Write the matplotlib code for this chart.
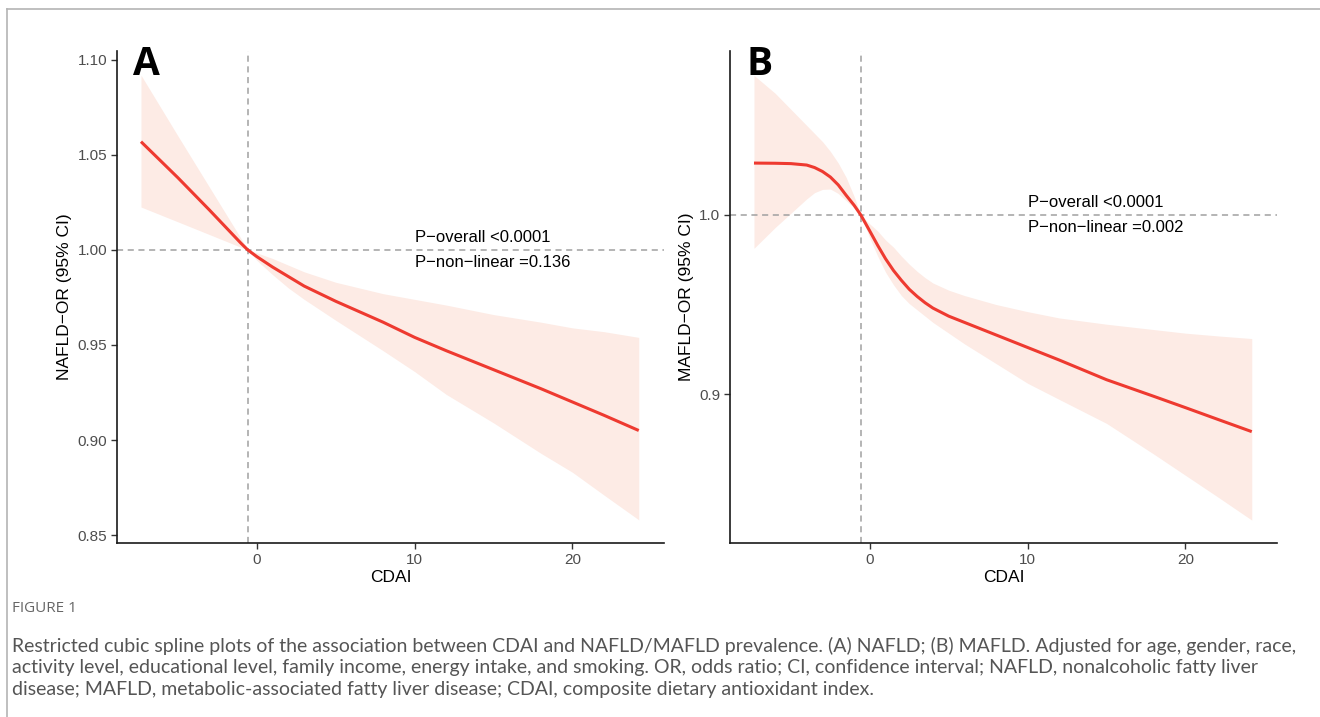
import matplotlib
matplotlib.use("Agg")
import matplotlib.pyplot as plt
from matplotlib.lines import Line2D

# panel A: NAFLD
xa = [-7.34, -5, -3, -1, -0.57, 0, 1, 2, 3, 5, 8, 10, 12, 15, 18, 20, 22, 24.2]
ya = [1.057, 1.038, 1.021, 1.0035, 1.0, 0.9965, 0.991, 0.986, 0.981, 0.973, 0.962, 0.954, 0.947, 0.937, 0.927, 0.920, 0.913, 0.905]
ya_hi = [1.092, 1.060, 1.033, 1.006, 1.0, 0.9985, 0.9955, 0.992, 0.9885, 0.983, 0.977, 0.974, 0.971, 0.966, 0.962, 0.959, 0.957, 0.954]
ya_lo = [1.0226, 1.0148, 1.0081, 1.0014, 1.0, 0.9945, 0.987, 0.980, 0.974, 0.963, 0.947, 0.936, 0.924, 0.909, 0.893, 0.883, 0.871, 0.858]

# panel B: MAFLD
xb = [-7.34, -6, -5, -4, -3.5, -3, -2.5, -2, -1.5, -1, -0.57, 0, 0.5, 1, 1.5, 2, 2.5, 3, 3.5, 4, 5, 6, 7, 8, 10, 12, 15, 18, 20, 22, 24.2]
yb = [1.029, 1.0289, 1.0287, 1.0279, 1.0265, 1.0243, 1.0212, 1.0168, 1.011, 1.0055, 1.0, 0.991, 0.983, 0.9755, 0.969, 0.9635, 0.9585, 0.9545, 0.951, 0.948, 0.9435, 0.940, 0.9365, 0.933, 0.926, 0.919, 0.908, 0.8987, 0.8924, 0.886, 0.879]
yb_hi = [1.078, 1.068, 1.059, 1.050, 1.0455, 1.041, 1.0355, 1.029, 1.021, 1.0105, 1.0, 0.995, 0.991, 0.986, 0.982, 0.977, 0.9725, 0.9685, 0.965, 0.962, 0.958, 0.955, 0.9525, 0.950, 0.946, 0.9425, 0.939, 0.936, 0.934, 0.9325, 0.931]
yb_lo = [0.9814, 0.993, 1.001, 1.009, 1.0125, 1.0143, 1.0145, 1.012, 1.008, 1.004, 1.0, 0.987, 0.977, 0.968, 0.961, 0.955, 0.9505, 0.947, 0.9435, 0.940, 0.934, 0.928, 0.9225, 0.917, 0.906, 0.897, 0.8836, 0.8664, 0.8546, 0.8428, 0.8296]

xticks = [0, 10, 20]
yticks_a = [0.85, 0.90, 0.95, 1.00, 1.05, 1.10]
yticks_b = [0.9, 1.0]
ref_x = -0.57

caption = [
    "Restricted cubic spline plots of the association between CDAI and NAFLD/MAFLD prevalence. (A) NAFLD; (B) MAFLD. Adjusted for age, gender, race,",
    "activity level, educational level, family income, energy intake, and smoking. OR, odds ratio; CI, confidence interval; NAFLD, nonalcoholic fatty liver",
    "disease; MAFLD, metabolic-associated fatty liver disease; CDAI, composite dietary antioxidant index.",
]

plt.rcParams['font.family'] = ['Liberation Sans', 'DejaVu Sans']

fig = plt.figure(figsize=(13.2, 7.17), dpi=100)

# outer frame (top and left only)
fig.add_artist(Line2D([7/1320, 1], [1 - 9/717, 1 - 9/717], color='#b4b4b4', lw=1.2, transform=fig.transFigure))
fig.add_artist(Line2D([7/1320, 7/1320], [0, 1 - 9/717], color='#b4b4b4', lw=1.2, transform=fig.transFigure))

panels = [
    (117, xa, ya, ya_hi, ya_lo, yticks_a, (0.8458, 1.1047), "NAFLD\u2212OR (95% CI)", "A", "0.136", ["{:.2f}".format(t) for t in yticks_a]),
    (730, xb, yb, yb_hi, yb_lo, yticks_b, (0.8168, 1.0916), "MAFLD\u2212OR (95% CI)", "B", "0.002", ["{:.1f}".format(t) for t in yticks_b]),
]

for left, x, y, hi, lo, yt, ylim, ylab, letter, pnl, ytl in panels:
    ax = fig.add_axes([left/1320, (717-543)/717, 547/1320, 492/717])
    ax.fill_between(x, lo, hi, color='#fdebe5', lw=0, zorder=1)
    ax.axhline(1.0, color='#a0a0a0', lw=1.1, ls=(0, (4, 3)), zorder=2)
    ax.axvline(ref_x, color='#a0a0a0', lw=1.1, ls=(0, (4, 3)), zorder=2)
    ax.plot(x, y, color='#ee3a30', lw=2.2, zorder=3, solid_capstyle='butt', solid_joinstyle='round')
    ax.set_xlim(-8.86, 25.8)
    ax.set_ylim(*ylim)
    ax.set_xticks(xticks)
    ax.set_yticks(yt)
    ax.set_yticklabels(ytl)
    for s in ['top', 'right']:
        ax.spines[s].set_visible(False)
    for s in ['left', 'bottom']:
        ax.spines[s].set_linewidth(1.2)
        ax.spines[s].set_color('#1a1a1a')
    ax.tick_params(direction='out', length=4, width=1.0, color='#333333', labelcolor='#4d4d4d', labelsize=11, pad=3)
    ax.set_xlabel("CDAI", fontsize=12.5, color='black', labelpad=2)
    ax.set_ylabel(ylab, fontsize=12.5, color='black', labelpad=4)
    ax.annotate("P\u2212overall <0.0001", (10, 1.0), xytext=(0, 9), textcoords='offset points',
                ha='left', va='center', fontsize=12, color='black')
    ax.annotate("P\u2212non\u2212linear =" + pnl, (10, 1.0), xytext=(0, -9), textcoords='offset points',
                ha='left', va='center', fontsize=12, color='black')
    fig.text((left + 16)/1320, 1 - 75/717, letter, fontsize=28, fontweight='bold', color='black',
             family=['Open Sans', 'DejaVu Sans'], ha='left', va='baseline')

fig.text(12/1320, 1 - 609/717, "FIGURE 1", fontsize=11, color='#666666', family=['Open Sans', 'DejaVu Sans'],
         ha='left', va='center')
for i, line in enumerate(caption):
    fig.text(12/1320, 1 - (646 + 22*i)/717, line, fontsize=14, color='#555555',
             family=['Lato', 'DejaVu Sans'], ha='left', va='center')

fig.savefig("out.png", dpi=100)
